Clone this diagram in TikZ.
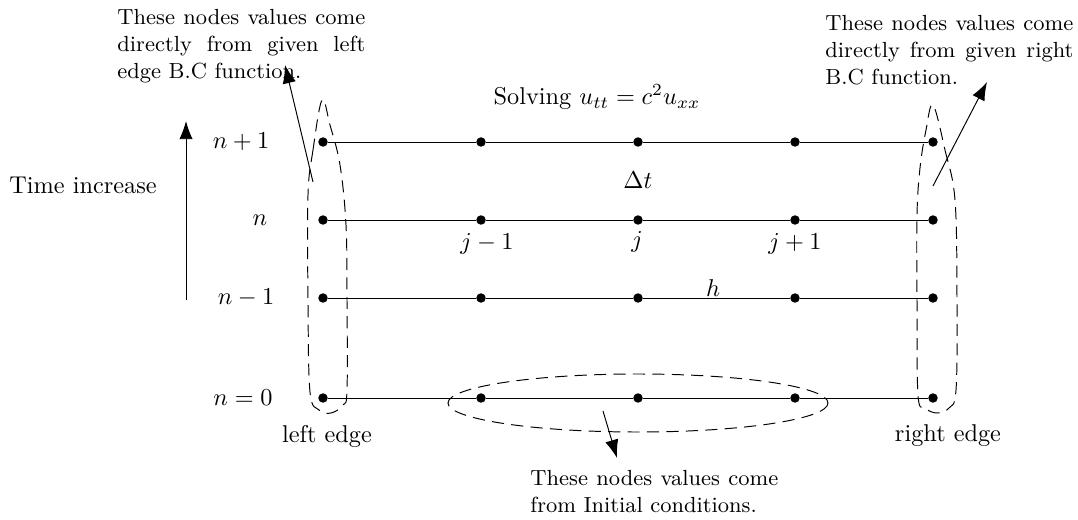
\documentclass[tikz,border=0pt]{standalone}
\usetikzlibrary{arrows.meta}
\begin{document}
\begin{tikzpicture}[x=0.4115pt,y=-0.4115pt,
  dot/.style={circle,fill=black,inner sep=0pt,minimum size=3.9pt},
  gridline/.style={draw=black,line width=0.4pt},
  region/.style={draw=black,line width=0.4pt,dash pattern=on 5pt off 3pt},
  pointer/.style={draw=black,line width=0.4pt,-{Latex[length=7.5pt,width=5.5pt]}},
  note/.style={font=\small,text width=102pt,align=justify,inner sep=0pt,anchor=north west},
  lbl/.style={inner sep=1pt}]
\useasboundingbox (0,0) rectangle (1078,520);
% dots
\foreach \r/\y in {0/398,1/298,2/220,3/142}{
  \foreach \c/\x in {0/323,1/481,2/638,3/795,4/933}{
    \node[dot] (d\r\c) at (\x,\y) {};
  }
  \draw[gridline] (d\r0) -- (d\r1) -- (d\r2) -- (d\r3) -- (d\r4);
}
% row labels
\node[lbl] (ln3) at (241,142) {$n+1$};
\node[lbl] (ln2) at (260,220) {$n$};
\node[lbl] (ln1) at (246,298) {$n-1$};
\node[lbl] (ln0) at (243,398) {$n=0$};
% column labels
\node[lbl] (cj1) at (487,244) {$j-1$};
\node[lbl] (cj) at (637,242) {$j$};
\node[lbl] (cj2) at (795,244) {$j+1$};
\node[lbl] (dt) at (638,180) {$\Delta t$};
\node[lbl] (hh) at (713,288) {$h$};
\node[lbl] (title) at (597,97) {Solving $u_{tt}=c^2u_{xx}$};
% time arrow
\node[lbl] (time) at (83,185) {Time increase};
\coordinate (tbot) at (186,300);
\coordinate (ttop) at (186,121);
\draw[line width=0.4pt,-{Latex[length=7.5pt,width=5.5pt]}] (tbot) -- (ttop);
% edge labels
\node[lbl] (le) at (327,436) {left edge};
\node[lbl] (re) at (948,436) {right edge};
% dashed regions
\draw[region] plot[smooth cycle,tension=0.6] coordinates {(322,100) (313,150) (308,195) (308,300) (310,392) (319,410) (331,413) (343,405) (347,390) (347,300) (346,225) (340,165) (330,125)};
\draw[region] plot[smooth cycle,tension=0.6] coordinates {(933,105) (945,150) (955,200) (957,300) (956,390) (949,408) (937,413) (925,408) (918,395) (917,300) (917,215) (920,168) (926,130)};
\draw[region] (638,403) ellipse [x radius=190,y radius=29];
% notes
\node[note] (nl) at (117,9) {These nodes values come directly from given left edge B.C function.};
\node[note] (nr) at (825,15) {These nodes values come directly from given right B.C function.};
\node[note] (nb) at (530,470) {These nodes values come from Initial conditions.};
% pointers
\coordinate (pl0) at (313,182);
\coordinate (pl1) at (285,65);
\coordinate (pr0) at (933,186);
\coordinate (pr1) at (987,82);
\coordinate (pb0) at (603,411);
\coordinate (pb1) at (617,458);
\draw[pointer] (pl0) -- (pl1);
\draw[pointer] (pr0) -- (pr1);
\draw[pointer] (pb0) -- (pb1);
\end{tikzpicture}
\end{document}
